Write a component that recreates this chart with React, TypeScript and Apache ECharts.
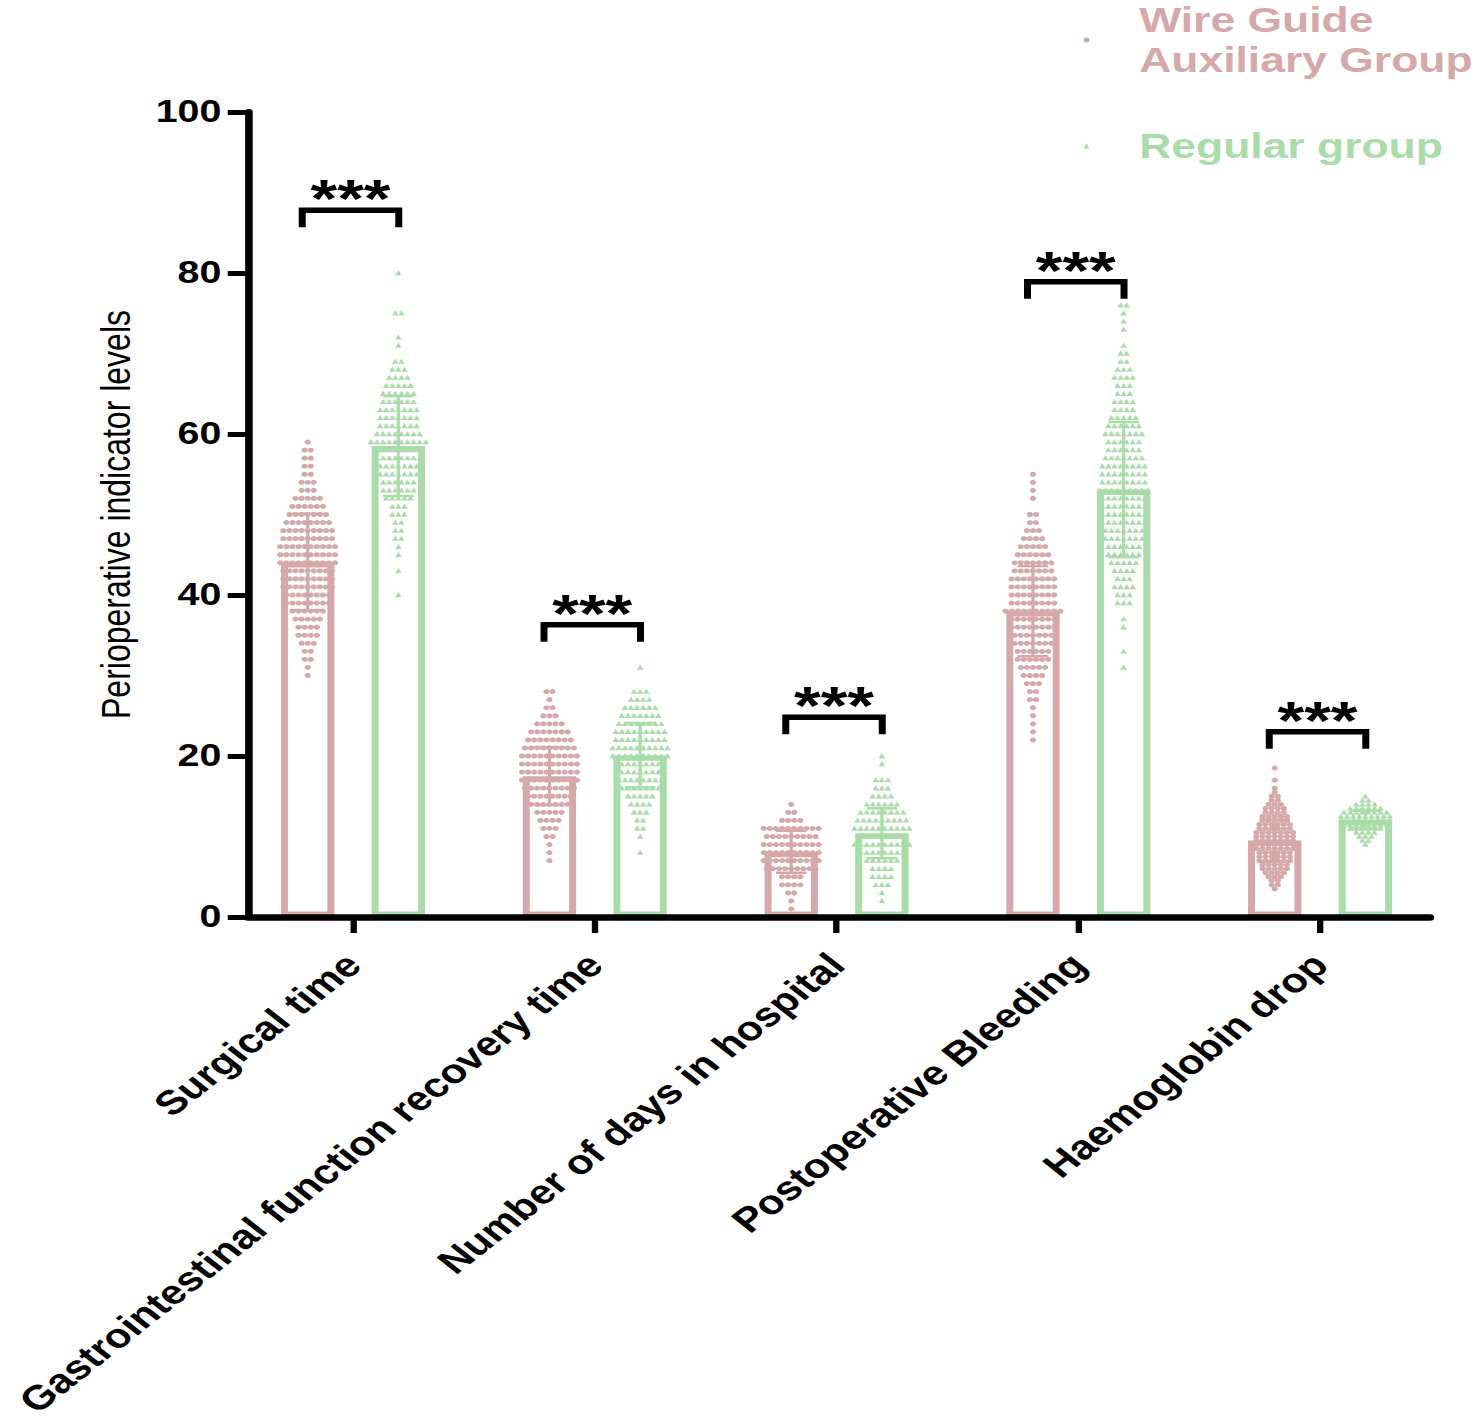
import React, { useEffect, useRef } from "react";
import * as echarts from "echarts";

// ---------- data ----------
const categories = [
  "Surgical time",
  "Gastrointestinal function recovery time",
  "Number of days in hospital",
  "Postoperative Bleeding",
  "Haemoglobin drop",
];
const groupNames = ["Wire Guide\nAuxiliary Group", "Regular group"];
const yAxisName = "Perioperative indicator levels";
const yMin = 0;
const yMax = 100;
const yInterval = 20;

const wireMeans = [44.1, 17.5, 8.1, 38.0, 9.5];
const regularMeans = [58.5, 20.1, 10.4, 53.1, 12.1];
const wireSD = [6.0, 3.6, 2.6, 5.6, 2.6];
const regularSD = [6.2, 4.0, 3.1, 8.4, 1.1];

const significance = ["***", "***", "***", "***", "***"];
const bracketLevels = [87.8, 36.3, 24.8, 78.9, 23.0];

const wireSurgical = [[59,1],[58,2],[57,2],[56,2],[55,2],[54,3],[53,3],[52,5],[51,6],[50,7],[49,8],[48,9],[47,9],[46,10],[45,10],[44,10],[43,9],[42,9],[41,9],[40,8],[39,8],[38,6],[37,5],[36,4],[35,4],[34,3],[33,2],[32,2],[31,1],[30,1]];
const regularSurgical = [[80,1],[75,2],[72,1],[71,1],[69,2],[68,3],[67,4],[66,5],[65,6],[64,6],[63,7],[62,7],[61,7],[60,8],[59,10],[58,8],[57,8],[56,7],[55,7],[54,6],[53,6],[52,5],[51,3],[50,3],[49,2],[48,2],[47,2],[46,1],[45,1],[43,1],[40,1]];
const wireGI = [[28,2],[27,1],[26,2],[25,3],[24,5],[23,7],[22,8],[21,9],[20,10],[19,10],[18,10],[17,10],[16,9],[15,8],[14,7],[13,5],[12,4],[11,3],[10,2],[9,1],[8,1],[7,1]];
const regularGI = [[31,1],[28,3],[27,4],[26,6],[25,7],[24,8],[23,9],[22,9],[21,10],[20,10],[19,9],[18,9],[17,8],[16,7],[15,5],[14,4],[13,3],[12,2],[11,2],[10,1],[8,1]];
const wireHospital = [[14,1],[13,2],[12,4],[11,10],[10,9],[9,10],[8,10],[7,10],[6,9],[5,4],[4,4],[3,2],[2,1],[1,1]];
const regularHospital = [[20,1],[19,1],[17,3],[16,3],[15,4],[14,6],[13,8],[12,9],[11,10],[10,9],[9,10],[8,8],[7,6],[6,4],[5,4],[4,3],[3,1],[2,1]];
const wireBleeding = [[55,1],[54,1],[53,1],[52,1],[50,2],[49,2],[48,3],[47,4],[46,5],[45,6],[44,7],[43,7],[42,8],[41,8],[40,8],[39,8],[38,10],[37,8],[36,8],[35,7],[34,7],[33,6],[32,6],[31,5],[30,4],[29,3],[28,2],[27,2],[26,1],[25,1],[24,1],[23,1],[22,1]];
const regularBleeding = [[76,2],[75,1],[74,1],[73,1],[71,1],[70,2],[69,2],[68,3],[67,4],[66,3],[65,3],[64,4],[63,4],[62,5],[61,6],[60,7],[59,6],[58,6],[57,7],[56,8],[55,8],[54,8],[53,9],[52,8],[51,8],[50,8],[49,8],[48,7],[47,7],[46,6],[45,6],[44,5],[43,4],[42,3],[41,4],[40,3],[39,3],[37,1],[36,1],[33,1],[31,1]];
const wireHaemoglobin = [[18.5,1],[17,1],[16,1],[15.5,1],[15,2],[14.5,2],[14,3],[13.5,4],[13,4],[12.5,5],[12,5],[11.5,6],[11,6],[10.5,7],[10,7],[9.5,7],[9,7],[8.5,7],[8,6],[7.5,6],[7,6],[6.5,5],[6,5],[5.5,4],[5,3],[4.5,2],[4,2],[3.5,1]];
const regularHaemoglobin = [[15,1],[14.5,2],[14,4],[13.5,6],[13,8],[12.5,9],[12,9],[11.5,8],[11,6],[10.5,4],[10,3],[9.5,2],[9,1]];

const wireDistributions = [wireSurgical, wireGI, wireHospital, wireBleeding, wireHaemoglobin];
const regularDistributions = [regularSurgical, regularGI, regularHospital, regularBleeding, regularHaemoglobin];

// ---------- style ----------
const PINK = "#D5A9AA";
const GREEN = "#A9DCA9";
const FONT = "'Liberation Sans', Arial, Helvetica, sans-serif";
const K = 1.27; // horizontal stretch of the original figure
const PAGE_W = 1477;
const PAGE_H = 1426;
const W = Math.round(PAGE_W / K);
const BAR_W = 42;
const BAR_GAP = 0.7;
const BAR_OFFSET = (BAR_W + BAR_GAP * BAR_W) / 2;
const DOT_STEP = 4.8;

function swarm(dists: number[][][]) {
  const out: number[][] = [];
  dists.forEach((rows, ci) => {
    rows.forEach(([v, n]) => {
      for (let i = 0; i < n; i++) out.push([ci, v, i - (n - 1) / 2]);
    });
  });
  return out;
}

function pointSeries(name: string, dists: number[][][], sign: number, color: string, shape: string) {
  return {
    type: "custom",
    name,
    xAxisIndex: 1,
    yAxisIndex: 1,
    itemStyle: { color },
    data: swarm(dists),
    z: 3,
    renderItem: (params: any, api: any) => {
      const p = api.coord([api.value(0), api.value(1)]);
      const cx = p[0] + sign * BAR_OFFSET + api.value(2) * DOT_STEP;
      const cy = p[1];
      if (shape === "circle") {
        return { type: "circle", shape: { cx, cy, r: 2.5 }, style: { fill: color } };
      }
      return {
        type: "polygon",
        shape: { points: [[cx, cy - 2.9], [cx - 2.6, cy + 2.2], [cx + 2.6, cy + 2.2]] },
        style: { fill: color },
      };
    },
  };
}

function errorSeries(means: number[], sds: number[], sign: number, color: string) {
  return {
    type: "custom",
    xAxisIndex: 1,
    yAxisIndex: 1,
    z: 4,
    data: means.map((m, i) => [i, m, sds[i]]),
    renderItem: (params: any, api: any) => {
      const ci = api.value(0);
      const m = api.value(1);
      const sd = api.value(2);
      const top = api.coord([ci, m + sd]);
      const bot = api.coord([ci, m - sd]);
      const x = top[0] + sign * BAR_OFFSET;
      const st = { stroke: color, lineWidth: 2.5 };
      return {
        type: "group",
        children: [
          { type: "line", shape: { x1: x, y1: top[1], x2: x, y2: bot[1] }, style: st },
          { type: "line", shape: { x1: x - 12, y1: top[1], x2: x + 12, y2: top[1] }, style: st },
          { type: "line", shape: { x1: x - 12, y1: bot[1], x2: x + 12, y2: bot[1] }, style: st },
        ],
      };
    },
  };
}

export default function App() {
  const ref = useRef<HTMLDivElement>(null);

  useEffect(() => {
    if (!ref.current) return;
    const chart = echarts.init(ref.current, undefined, { renderer: "svg" });
    const option: any = {
      animation: false,
      backgroundColor: "#ffffff",
      textStyle: { fontFamily: FONT },
      legend: {
        orient: "vertical",
        left: 853,
        top: 0,
        padding: 0,
        itemGap: 46,
        itemWidth: 5,
        itemHeight: 5,
        selectedMode: false,
        textStyle: { fontSize: 35, fontWeight: "bold", lineHeight: 40, fontFamily: FONT, padding: [0, 0, 0, 34] },
        data: [
          { name: groupNames[0], icon: "circle", textStyle: { color: PINK } },
          { name: groupNames[1], icon: "triangle", textStyle: { color: GREEN } },
        ],
      },
      grid: [
        { left: 195.3, right: W - 1126, top: 112, bottom: PAGE_H - 917 },
        { left: 182.8, right: W - 1134.6, top: 112, bottom: PAGE_H - 917 },
      ],
      xAxis: [
        {
          type: "value",
          gridIndex: 0,
          min: 0,
          max: 1,
          z: 10,
          axisLine: { show: true, lineStyle: { color: "#000", width: 6.5 } },
          axisTick: { show: false },
          axisLabel: { show: false },
          splitLine: { show: false },
        },
        {
          type: "category",
          gridIndex: 1,
          data: categories,
          axisLine: { show: false },
          axisTick: { show: true, alignWithLabel: true, length: 16, lineStyle: { color: "#000", width: 5 } },
          axisLabel: {
            interval: 0,
            rotate: 45,
            margin: 42,
            color: "#000",
            fontSize: 34,
            fontWeight: "bold",
            fontFamily: FONT,
          },
          splitLine: { show: false },
        },
      ],
      yAxis: [
        {
          type: "value",
          gridIndex: 0,
          min: yMin,
          max: yMax,
          interval: yInterval,
          z: 10,
          name: yAxisName,
          nameLocation: "middle",
          nameGap: 88,
          nameTextStyle: { color: "#000", fontSize: 32, fontFamily: FONT },
          axisLine: { show: true, lineStyle: { color: "#000", width: 6 } },
          axisTick: { show: true, length: 16, lineStyle: { color: "#000", width: 5 } },
          axisLabel: { color: "#000", fontSize: 31, fontWeight: "bold", margin: 21, fontFamily: FONT },
          splitLine: { show: false },
        },
        {
          type: "value",
          gridIndex: 1,
          min: yMin,
          max: yMax,
          show: false,
          splitLine: { show: false },
        },
      ],
      series: [
        {
          type: "bar",
          name: "barWire",
          xAxisIndex: 1,
          yAxisIndex: 1,
          barWidth: BAR_W,
          barGap: BAR_GAP * 100 + "%",
          data: wireMeans,
          itemStyle: { color: "rgba(255,255,255,0)", borderColor: PINK, borderWidth: 5.5 },
          z: 2,
        },
        {
          type: "bar",
          name: "barRegular",
          xAxisIndex: 1,
          yAxisIndex: 1,
          barWidth: BAR_W,
          barGap: BAR_GAP * 100 + "%",
          data: regularMeans,
          itemStyle: { color: "rgba(255,255,255,0)", borderColor: GREEN, borderWidth: 5.5 },
          z: 2,
        },
        pointSeries(groupNames[0], wireDistributions, -1, PINK, "circle"),
        pointSeries(groupNames[1], regularDistributions, 1, GREEN, "triangle"),
        errorSeries(wireMeans, wireSD, -1, PINK),
        errorSeries(regularMeans, regularSD, 1, GREEN),
        {
          type: "custom",
          xAxisIndex: 1,
          yAxisIndex: 1,
          z: 5,
          data: bracketLevels.map((v, i) => [i, v]),
          renderItem: (params: any, api: any) => {
            const ci = api.value(0);
            const p = api.coord([ci, api.value(1)]);
            const x0 = p[0] - 40;
            const x1 = p[0] + 36;
            const y = p[1];
            return {
              type: "group",
              children: [
                {
                  type: "polyline",
                  shape: { points: [[x0, y + 17], [x0, y], [x1, y], [x1, y + 17]] },
                  style: { stroke: "#000", lineWidth: 5.5, fill: "none", lineJoin: "miter", lineCap: "butt" },
                },
                {
                  type: "text",
                  style: {
                    text: significance[ci],
                    x: (x0 + x1) / 2,
                    y: y - 12,
                    textAlign: "center",
                    textVerticalAlign: "middle",
                    fontSize: 54,
                    fontWeight: "bold",
                    fontFamily: FONT,
                    fill: "#000",
                  },
                },
              ],
            };
          },
        },
      ],
    };
    chart.setOption(option);
    return () => chart.dispose();
  }, []);

  return (
    <div
      style={{
        position: "absolute",
        left: 0,
        top: 0,
        width: PAGE_W,
        height: PAGE_H,
        overflow: "hidden",
        background: "#fff",
      }}
    >
      <div
        ref={ref}
        style={{
          width: W,
          height: PAGE_H,
          transform: `scaleX(${K})`,
          transformOrigin: "0 0",
        }}
      />
    </div>
  );
}
